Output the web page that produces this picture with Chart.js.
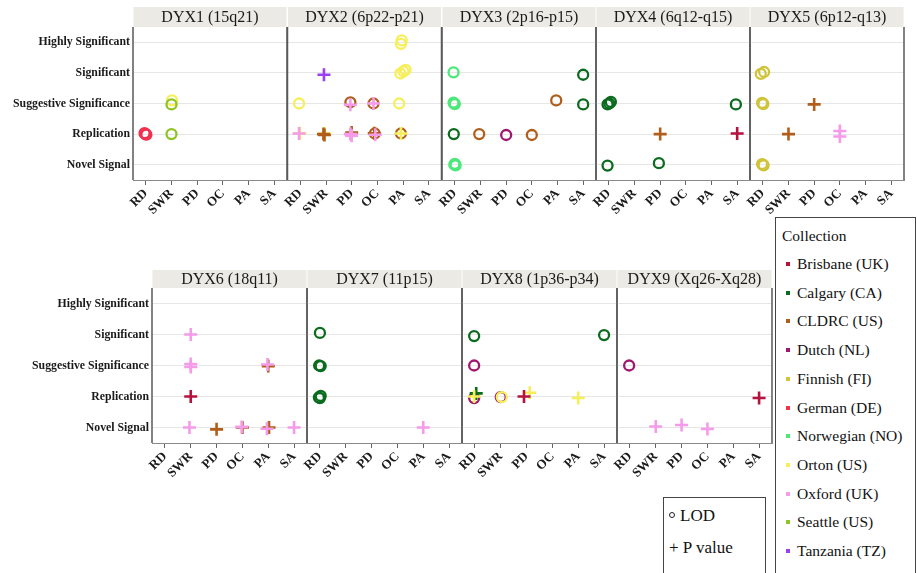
<!DOCTYPE html>
<html>
<head>
<meta charset="utf-8">
<script src="https://cdn.jsdelivr.net/npm/chart.js@4.4.1/dist/chart.umd.min.js"></script>
<style>
  html,body{margin:0;padding:0;background:#fff;}
  body{width:917px;height:573px;overflow:hidden;position:relative;font-family:"Liberation Serif","Times New Roman",serif;color:#111;}
  .cv{position:absolute;left:0;top:0;width:917px;height:573px;pointer-events:none;}
  #leg{position:absolute;left:775px;top:217px;width:141px;height:360px;border:1.5px solid #444;box-sizing:border-box;font-family:"Liberation Serif",serif;}
  #leg .t{position:absolute;left:6px;top:8px;font-size:15.5px;line-height:20px;}
  #leg .it{position:absolute;left:21px;font-size:15.5px;line-height:20px;white-space:nowrap;}
  #leg .sq{position:absolute;left:-11px;top:8px;width:4px;height:4px;}
  #mk{position:absolute;left:663px;top:497px;width:103px;height:80px;border:1.5px solid #444;box-sizing:border-box;font-size:17px;font-family:"Liberation Serif",serif;}
  #mk .r{position:absolute;left:5px;white-space:nowrap;line-height:20px;}
  #mk .c{display:inline-block;width:4px;height:4px;border:1px solid #222;border-radius:50%;margin-right:5px;vertical-align:3px;}
</style>
</head>
<body>
<div id="leg"><div class="t">Collection</div></div>
<div id="mk"><div class="r" style="top:8px"><span class="c"></span>LOD</div><div class="r" style="top:40px">+ P value</div></div>
<script>
// ---------- categories ----------
const XCATS = ['RD', 'SWR', 'PD', 'OC', 'PA', 'SA'];
const YCATS = ['Novel Signal', 'Replication', 'Suggestive Significance', 'Significant', 'Highly Significant'];
const COLLECTION_KEYS = ['Brisbane', 'Calgary', 'CLDRC', 'Dutch', 'Finnish', 'German', 'Norwegian', 'Orton', 'Oxford', 'Seattle', 'Tanzania'];
const COLLECTION_LABELS = ['Brisbane (UK)', 'Calgary (CA)', 'CLDRC (US)', 'Dutch (NL)', 'Finnish (FI)', 'German (DE)', 'Norwegian (NO)', 'Orton (US)', 'Oxford (UK)', 'Seattle (US)', 'Tanzania (TZ)'];
const COLLECTION_COLORS = ['#b5123e', '#0b6b1e', '#b05e1a', '#a0186e', '#cfc43a', '#f2304f', '#4de87a', '#f6ef5a', '#f59bea', '#8fc425', '#9b3ff0'];
const PANEL_TITLES = ['DYX1 (15q21)', 'DYX2 (6p22-p21)', 'DYX3 (2p16-p15)', 'DYX4 (6q12-q15)', 'DYX5 (6p12-q13)', 'DYX6 (18q11)', 'DYX7 (11p15)', 'DYX8 (1p36-p34)', 'DYX9 (Xq26-Xq28)'];

// ---------- data: [collection, measure, phenotype, level, x-jitter, y-jitter] ----------
const dyx1 = [
  ['German', 'LOD', 'RD', 'Replication', -0.05, 0.03],
  ['German', 'LOD', 'RD', 'Replication', 0.02, -0.02],
  ['German', 'LOD', 'RD', 'Replication', -0.02, 0.0],
  ['Orton', 'LOD', 'SWR', 'Suggestive Significance', 0.02, 0.1],
  ['Seattle', 'LOD', 'SWR', 'Suggestive Significance', 0.0, -0.03],
  ['Seattle', 'LOD', 'SWR', 'Replication', 0.0, 0.0]
];
const dyx2 = [
  ['Orton', 'LOD', 'PA', 'Highly Significant', -0.08, -0.05],
  ['Orton', 'LOD', 'PA', 'Highly Significant', -0.05, 0.06],
  ['Orton', 'LOD', 'PA', 'Significant', -0.1, -0.02],
  ['Orton', 'LOD', 'PA', 'Significant', 0.1, 0.1],
  ['Orton', 'LOD', 'PA', 'Significant', 0.02, 0.05],
  ['Tanzania', 'P', 'SWR', 'Significant', -0.08, -0.06],
  ['Orton', 'LOD', 'RD', 'Suggestive Significance', -0.05, 0.0],
  ['CLDRC', 'LOD', 'PD', 'Suggestive Significance', -0.05, 0.04],
  ['Oxford', 'P', 'PD', 'Suggestive Significance', -0.05, -0.04],
  ['CLDRC', 'LOD', 'OC', 'Suggestive Significance', -0.15, 0.0],
  ['Oxford', 'P', 'OC', 'Suggestive Significance', -0.15, 0.0],
  ['Orton', 'LOD', 'PA', 'Suggestive Significance', -0.15, 0.0],
  ['Orton', 'P', 'RD', 'Replication', -0.02, 0.03],
  ['Oxford', 'P', 'RD', 'Replication', -0.05, 0.02],
  ['Orton', 'P', 'SWR', 'Replication', -0.05, 0.02],
  ['CLDRC', 'P', 'SWR', 'Replication', -0.1, 0.0],
  ['CLDRC', 'P', 'SWR', 'Replication', -0.06, -0.03],
  ['CLDRC', 'P', 'PD', 'Replication', 0.0, 0.05],
  ['Oxford', 'P', 'PD', 'Replication', -0.05, 0.0],
  ['Oxford', 'P', 'PD', 'Replication', 0.0, -0.05],
  ['CLDRC', 'LOD', 'OC', 'Replication', -0.1, 0.02],
  ['CLDRC', 'P', 'OC', 'Replication', -0.12, 0.03],
  ['Oxford', 'P', 'OC', 'Replication', -0.08, -0.02],
  ['CLDRC', 'LOD', 'PA', 'Replication', -0.08, 0.02],
  ['Orton', 'P', 'PA', 'Replication', -0.08, 0.02]
];
const dyx3 = [
  ['Norwegian', 'LOD', 'RD', 'Significant', -0.05, 0.02],
  ['Norwegian', 'LOD', 'RD', 'Suggestive Significance', -0.05, 0.03],
  ['Norwegian', 'LOD', 'RD', 'Suggestive Significance', 0.0, -0.02],
  ['Norwegian', 'LOD', 'RD', 'Suggestive Significance', -0.03, 0.0],
  ['Calgary', 'LOD', 'RD', 'Replication', -0.04, 0.0],
  ['Norwegian', 'LOD', 'RD', 'Novel Signal', 0.0, 0.03],
  ['Norwegian', 'LOD', 'RD', 'Novel Signal', 0.03, -0.02],
  ['Norwegian', 'LOD', 'RD', 'Novel Signal', -0.02, 0.0],
  ['CLDRC', 'LOD', 'SWR', 'Replication', -0.05, 0.0],
  ['Dutch', 'LOD', 'PD', 'Replication', 0.0, -0.03],
  ['CLDRC', 'LOD', 'OC', 'Replication', 0.0, -0.03],
  ['CLDRC', 'LOD', 'PA', 'Suggestive Significance', -0.05, 0.1],
  ['Calgary', 'LOD', 'SA', 'Significant', 0.0, -0.06],
  ['Calgary', 'LOD', 'SA', 'Suggestive Significance', 0.0, -0.03]
];
const dyx4 = [
  ['Calgary', 'LOD', 'RD', 'Suggestive Significance', -0.05, -0.03],
  ['Calgary', 'LOD', 'RD', 'Suggestive Significance', 0.08, 0.05],
  ['Calgary', 'LOD', 'RD', 'Suggestive Significance', 0.02, 0.0],
  ['Calgary', 'LOD', 'RD', 'Novel Signal', -0.05, -0.03],
  ['Calgary', 'LOD', 'PD', 'Novel Signal', -0.05, 0.05],
  ['CLDRC', 'P', 'PD', 'Replication', 0.0, 0.0],
  ['Calgary', 'LOD', 'SA', 'Suggestive Significance', -0.05, -0.03],
  ['Brisbane', 'P', 'SA', 'Replication', 0.0, 0.02]
];
const dyx5 = [
  ['Finnish', 'LOD', 'RD', 'Significant', -0.08, -0.03],
  ['Finnish', 'LOD', 'RD', 'Significant', 0.05, 0.03],
  ['Finnish', 'LOD', 'RD', 'Suggestive Significance', -0.03, 0.02],
  ['Finnish', 'LOD', 'RD', 'Suggestive Significance', 0.02, -0.02],
  ['Finnish', 'LOD', 'RD', 'Suggestive Significance', 0.0, 0.0],
  ['Finnish', 'LOD', 'RD', 'Novel Signal', -0.03, 0.02],
  ['Finnish', 'LOD', 'RD', 'Novel Signal', 0.03, -0.02],
  ['Finnish', 'LOD', 'RD', 'Novel Signal', 0.0, 0.0],
  ['CLDRC', 'P', 'SWR', 'Replication', 0.0, 0.0],
  ['CLDRC', 'P', 'PD', 'Suggestive Significance', 0.0, -0.03],
  ['Oxford', 'P', 'OC', 'Replication', 0.0, 0.1],
  ['Oxford', 'P', 'OC', 'Replication', 0.0, -0.08]
];
const dyx6 = [
  ['Oxford', 'P', 'SWR', 'Significant', 0.0, 0.0],
  ['Oxford', 'P', 'SWR', 'Suggestive Significance', 0.0, 0.05],
  ['Oxford', 'P', 'SWR', 'Suggestive Significance', 0.0, -0.05],
  ['Brisbane', 'P', 'SWR', 'Replication', 0.0, 0.0],
  ['Oxford', 'P', 'SWR', 'Novel Signal', -0.05, 0.0],
  ['CLDRC', 'P', 'PD', 'Novel Signal', 0.0, -0.06],
  ['CLDRC', 'P', 'OC', 'Novel Signal', 0.0, 0.0],
  ['Oxford', 'P', 'OC', 'Novel Signal', -0.03, 0.02],
  ['CLDRC', 'P', 'PA', 'Suggestive Significance', 0.0, -0.02],
  ['Oxford', 'P', 'PA', 'Suggestive Significance', -0.03, 0.03],
  ['CLDRC', 'P', 'PA', 'Novel Signal', 0.03, 0.0],
  ['Oxford', 'P', 'PA', 'Novel Signal', -0.05, -0.04],
  ['Oxford', 'P', 'SA', 'Novel Signal', 0.0, 0.0]
];
const dyx7 = [
  ['Calgary', 'LOD', 'RD', 'Significant', 0.0, 0.05],
  ['Calgary', 'LOD', 'RD', 'Suggestive Significance', -0.03, 0.0],
  ['Calgary', 'LOD', 'RD', 'Suggestive Significance', 0.03, -0.02],
  ['Calgary', 'LOD', 'RD', 'Replication', -0.04, -0.03],
  ['Calgary', 'LOD', 'RD', 'Replication', 0.03, 0.02],
  ['Calgary', 'LOD', 'RD', 'Replication', 0.0, -0.05],
  ['Oxford', 'P', 'PA', 'Novel Signal', 0.0, 0.0]
];
const dyx8 = [
  ['Calgary', 'LOD', 'RD', 'Significant', -0.03, -0.05],
  ['Dutch', 'LOD', 'RD', 'Suggestive Significance', -0.03, 0.0],
  ['Dutch', 'LOD', 'RD', 'Replication', -0.03, -0.05],
  ['Calgary', 'P', 'RD', 'Replication', 0.05, 0.1],
  ['Orton', 'P', 'RD', 'Replication', -0.03, 0.0],
  ['Dutch', 'LOD', 'SWR', 'Replication', 0.0, -0.02],
  ['Orton', 'LOD', 'SWR', 'Replication', 0.04, -0.02],
  ['Orton', 'P', 'PD', 'Replication', 0.12, 0.12],
  ['Brisbane', 'P', 'PD', 'Replication', -0.1, 0.0],
  ['Orton', 'P', 'PA', 'Replication', 0.0, -0.05],
  ['Calgary', 'LOD', 'SA', 'Significant', 0.0, -0.02]
];
const dyx9 = [
  ['Dutch', 'LOD', 'RD', 'Suggestive Significance', -0.03, 0.0],
  ['Oxford', 'P', 'SWR', 'Novel Signal', 0.0, 0.03],
  ['Oxford', 'P', 'PD', 'Novel Signal', 0.0, 0.08],
  ['Oxford', 'P', 'OC', 'Novel Signal', 0.0, -0.05],
  ['Brisbane', 'P', 'SA', 'Replication', 0.0, -0.05]
];
const PANEL_DATA = [dyx1, dyx2, dyx3, dyx4, dyx5, dyx6, dyx7, dyx8, dyx9];

// ---------- layout (pixel geometry of the facets) ----------
const ROWS = [
  { headerTop: 7, plotTop: 27, plotBottom: 180, lefts: [133, 287.5, 442, 596, 750], width: 154 },
  { headerTop: 270, plotTop: 288, plotBottom: 443, lefts: [152, 307, 462, 617], width: 155 }
];
const W = 917, H = 573, XAXIS_H = 40;
const SERIF = '"Liberation Serif", "Times New Roman", serif';

// legend
(function buildLegend() {
  const leg = document.getElementById('leg');
  COLLECTION_LABELS.forEach((lab, i) => {
    const d = document.createElement('div');
    d.className = 'it';
    d.style.top = (36 + i * 28.7) + 'px';
    d.textContent = lab;
    const s = document.createElement('span');
    s.className = 'sq';
    s.style.background = COLLECTION_COLORS[i];
    d.appendChild(s);
    leg.appendChild(d);
  });
})();

const framePlugin = {
  id: 'frame',
  beforeDatasetsDraw(chart, args, opts) {
    const { ctx, chartArea: a } = chart;
    ctx.save();
    ctx.fillStyle = '#ebeae4';
    ctx.fillRect(a.left + 0.5, opts.headerTop, a.right - a.left - 1, a.top - opts.headerTop);
    ctx.fillStyle = '#1a1a1a';
    ctx.font = '16px ' + SERIF;
    ctx.textAlign = 'center';
    ctx.textBaseline = 'middle';
    ctx.fillText(opts.title, (a.left + a.right) / 2, (opts.headerTop + a.top) / 2 + 1);
    ctx.strokeStyle = '#5a5a5a';
    ctx.lineWidth = 1.5;
    ctx.beginPath();
    ctx.moveTo(a.left, a.top); ctx.lineTo(a.left, a.bottom);
    ctx.moveTo(a.right, a.top); ctx.lineTo(a.right, a.bottom);
    ctx.stroke();
    ctx.restore();
  }
};

let panelIndex = 0;
ROWS.forEach((row) => {
  row.lefts.forEach((left, j) => {
    const k = panelIndex++;
    const rows = PANEL_DATA[k];
    const showY = j === 0;
    const cv = document.createElement('canvas');
    cv.className = 'cv';
    cv.width = W; cv.height = H;
    document.body.appendChild(cv);

    const pts = rows.map(r => ({ x: XCATS.indexOf(r[2]) + r[4], y: YCATS.indexOf(r[3]) + r[5] }));
    const colors = rows.map(r => COLLECTION_COLORS[COLLECTION_KEYS.indexOf(r[0])]);
    const styles = rows.map(r => r[1] === 'LOD' ? 'circle' : 'cross');
    const radii = rows.map(r => r[1] === 'LOD' ? 5 : 6.5);
    const widths = rows.map(r => r[1] === 'LOD' ? 2.3 : 2.6);

    new Chart(cv, {
      type: 'scatter',
      data: {
        datasets: [{
          data: pts,
          pointStyle: styles,
          pointRadius: radii,
          pointHoverRadius: radii,
          pointBorderColor: colors,
          pointBackgroundColor: 'rgba(0,0,0,0)',
          pointBorderWidth: widths,
          showLine: false,
          clip: false
        }]
      },
      options: {
        responsive: false,
        animation: false,
        events: [],
        layout: {
          padding: {
            left: showY ? 0 : left,
            right: W - (left + row.width),
            top: row.plotTop,
            bottom: H - row.plotBottom - XAXIS_H
          }
        },
        plugins: {
          legend: { display: false },
          tooltip: { enabled: false },
          frame: { title: PANEL_TITLES[k], headerTop: row.headerTop }
        },
        scales: {
          x: {
            type: 'linear',
            min: -0.5, max: 5.5,
            afterBuildTicks: (s) => { s.ticks = XCATS.map((_, i) => ({ value: i })); },
            afterFit: (s) => { s.height = XAXIS_H; },
            grid: { display: true, drawOnChartArea: false, drawTicks: true, tickLength: 5, color: '#666', lineWidth: 1 },
            border: { display: true, color: '#8a8a8a', width: 1 },
            ticks: {
              autoSkip: false, minRotation: 45, maxRotation: 45, padding: 1,
              color: '#1a1a1a',
              font: { family: SERIF, size: 13, weight: 'bold' },
              callback: (v) => XCATS[v]
            }
          },
          y: {
            type: 'linear',
            min: -0.5, max: 4.5,
            afterBuildTicks: (s) => { s.ticks = YCATS.map((_, i) => ({ value: i })); },
            afterFit: (s) => { s.width = showY ? left : 0; },
            grid: { display: true, drawTicks: false, color: '#e6e6e6', lineWidth: 1 },
            border: { display: false },
            ticks: {
              display: showY, padding: 3,
              color: '#1a1a1a',
              font: { family: SERIF, size: 11.8, weight: 'bold' },
              callback: (v) => YCATS[v]
            }
          }
        }
      },
      plugins: [framePlugin]
    });
  });
});
</script>
</body>
</html>
